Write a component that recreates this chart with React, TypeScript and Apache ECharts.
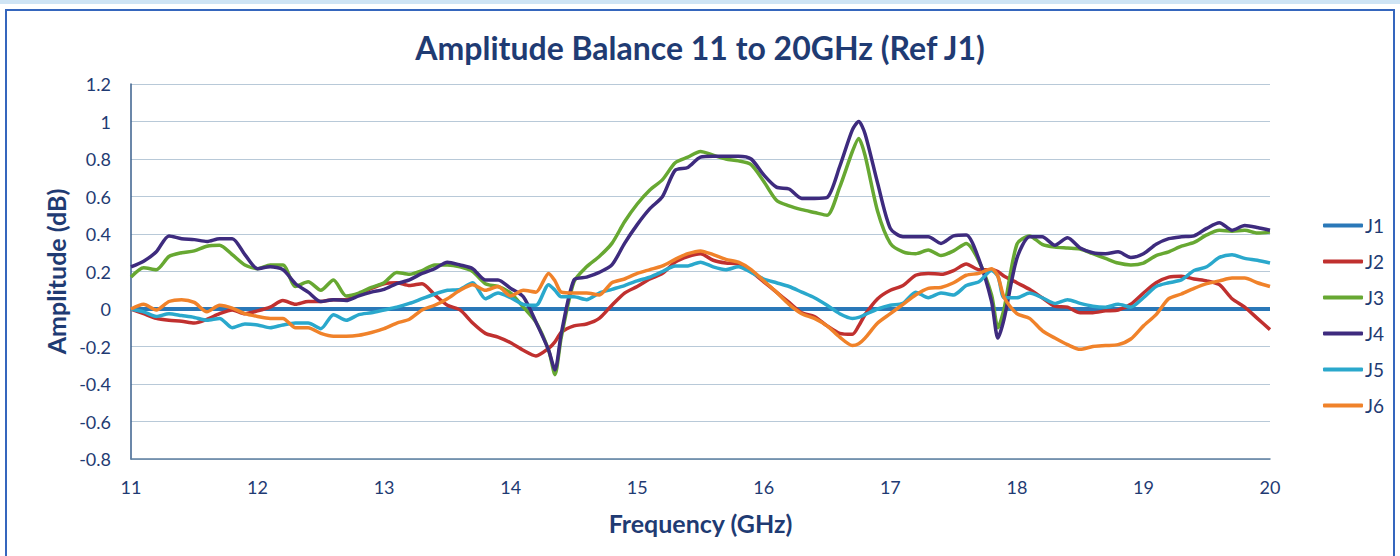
import React, { useEffect, useRef } from "react";
import * as echarts from "echarts";

const FREQ = [
  11, 11.1, 11.2, 11.3, 11.4, 11.5, 11.6, 11.7, 11.8, 11.9,
  12, 12.1, 12.2, 12.3, 12.4, 12.5, 12.6, 12.7, 12.8, 12.9,
  13, 13.1, 13.2, 13.3, 13.4, 13.5, 13.6, 13.7, 13.8, 13.9,
  14, 14.1, 14.2, 14.3, 14.35, 14.4, 14.5, 14.6, 14.7, 14.8, 14.9,
  15, 15.1, 15.2, 15.3, 15.4, 15.5, 15.6, 15.7, 15.8, 15.9,
  16, 16.1, 16.2, 16.3, 16.4, 16.5, 16.6, 16.7, 16.75, 16.8, 16.9,
  17, 17.1, 17.2, 17.3, 17.4, 17.5, 17.6, 17.7, 17.8, 17.85, 17.9,
  18, 18.1, 18.2, 18.3, 18.4, 18.5, 18.6, 18.7, 18.8, 18.9,
  19, 19.1, 19.2, 19.3, 19.4, 19.5, 19.6, 19.7, 19.8, 19.9,
  20,
];

const J1_FREQ = [11, 20];
const J1 = [0, 0];

const J2 = [
  0, -0.025, -0.05, -0.06, -0.065, -0.075, -0.055, -0.025, -0.005, -0.025,
  -0.01, 0.01, 0.045, 0.025, 0.04, 0.04, 0.05, 0.05, 0.08, 0.11,
  0.135, 0.14, 0.125, 0.135, 0.075, 0.02, -0.005, -0.075, -0.13, -0.15,
  -0.18, -0.22, -0.25, -0.21, -0.175, -0.125, -0.09, -0.08, -0.05, 0.02, 0.085,
  0.12, 0.16, 0.19, 0.25, 0.28, 0.295, 0.26, 0.245, 0.24, 0.2,
  0.145, 0.09, 0.035, -0.02, -0.04, -0.09, -0.13, -0.135, -0.09, -0.03, 0.055,
  0.1, 0.125, 0.18, 0.19, 0.185, 0.205, 0.24, 0.21, 0.21, 0.2, 0.175,
  0.14, 0.105, 0.06, 0.015, 0.01, -0.02, -0.02, -0.01, -0.005, 0.025,
  0.085, 0.14, 0.17, 0.175, 0.16, 0.15, 0.13, 0.055, 0.01, -0.05,
  -0.11,
];

const J3 = [
  0.17, 0.22, 0.21, 0.28, 0.3, 0.31, 0.335, 0.34, 0.29, 0.235,
  0.215, 0.235, 0.235, 0.12, 0.145, 0.1, 0.155, 0.07, 0.085, 0.115,
  0.14, 0.195, 0.185, 0.205, 0.235, 0.235, 0.225, 0.2, 0.135, 0.12,
  0.085, 0.01, -0.07, -0.22, -0.35, -0.15, 0.145, 0.225, 0.28, 0.35, 0.465,
  0.56, 0.635, 0.69, 0.78, 0.81, 0.84, 0.82, 0.8, 0.79, 0.77,
  0.68, 0.58, 0.55, 0.53, 0.515, 0.5, 0.65, 0.84, 0.91, 0.82, 0.52,
  0.35, 0.305, 0.295, 0.315, 0.285, 0.31, 0.35, 0.255, 0.075, -0.1, 0.005,
  0.345, 0.39, 0.345, 0.33, 0.325, 0.32, 0.295, 0.27, 0.245, 0.235,
  0.245, 0.285, 0.305, 0.335, 0.355, 0.395, 0.42, 0.415, 0.42, 0.405,
  0.41,
];

const J4 = [
  0.225, 0.255, 0.305, 0.39, 0.375, 0.37, 0.36, 0.375, 0.375, 0.29,
  0.215, 0.225, 0.21, 0.135, 0.09, 0.04, 0.05, 0.045, 0.07, 0.09,
  0.105, 0.135, 0.155, 0.19, 0.215, 0.25, 0.235, 0.215, 0.155, 0.155,
  0.11, 0.065, -0.07, -0.22, -0.325, -0.13, 0.155, 0.17, 0.195, 0.235, 0.35,
  0.45, 0.535, 0.6, 0.74, 0.755, 0.81, 0.815, 0.815, 0.815, 0.8,
  0.715, 0.65, 0.64, 0.59, 0.59, 0.595, 0.76, 0.955, 1.0, 0.935, 0.67,
  0.43, 0.385, 0.385, 0.385, 0.35, 0.39, 0.395, 0.265, 0.04, -0.155, -0.05,
  0.27, 0.385, 0.385, 0.34, 0.38, 0.325, 0.3, 0.295, 0.305, 0.275,
  0.295, 0.345, 0.375, 0.385, 0.39, 0.43, 0.46, 0.42, 0.445, 0.435,
  0.42,
];

const J5 = [
  0, -0.015, -0.04, -0.025, -0.035, -0.045, -0.06, -0.05, -0.1, -0.08,
  -0.085, -0.1, -0.085, -0.075, -0.075, -0.105, -0.03, -0.06, -0.03, -0.02,
  -0.005, 0.01, 0.03, 0.055, 0.08, 0.1, 0.105, 0.14, 0.055, 0.085,
  0.06, 0.025, 0.02, 0.13, 0.1, 0.065, 0.065, 0.05, 0.085, 0.105, 0.125,
  0.15, 0.17, 0.2, 0.23, 0.23, 0.25, 0.225, 0.21, 0.225, 0.195,
  0.16, 0.14, 0.12, 0.09, 0.06, 0.02, -0.025, -0.05, -0.045, -0.03, 0,
  0.02, 0.03, 0.09, 0.06, 0.085, 0.075, 0.125, 0.145, 0.205, 0.175, 0.06,
  0.06, 0.085, 0.06, 0.03, 0.05, 0.03, 0.015, 0.01, 0.025, 0.01,
  0.06, 0.12, 0.14, 0.155, 0.205, 0.225, 0.275, 0.29, 0.27, 0.26,
  0.245,
];

const J6 = [
  0, 0.025, -0.005, 0.04, 0.05, 0.035, -0.015, 0.02, 0.005, -0.025,
  -0.04, -0.05, -0.05, -0.1, -0.1, -0.13, -0.145, -0.145, -0.14, -0.125,
  -0.105, -0.075, -0.055, -0.005, 0.02, 0.055, 0.1, 0.13, 0.1, 0.12,
  0.07, 0.1, 0.09, 0.19, 0.15, 0.09, 0.085, 0.085, 0.075, 0.14, 0.16,
  0.19, 0.21, 0.23, 0.265, 0.295, 0.31, 0.29, 0.265, 0.25, 0.21,
  0.15, 0.09, 0.025, -0.025, -0.05, -0.09, -0.15, -0.195, -0.185, -0.155, -0.075,
  -0.025, 0.025, 0.075, 0.11, 0.115, 0.14, 0.18, 0.19, 0.215, 0.175, 0.06,
  -0.025, -0.05, -0.115, -0.155, -0.19, -0.215, -0.2, -0.195, -0.19, -0.16,
  -0.09, -0.03, 0.055, 0.08, 0.11, 0.135, 0.15, 0.165, 0.165, 0.14,
  0.12,
];

const NAMES = ["J1", "J2", "J3", "J4", "J5", "J6"];
const COLORS = ["#2a78b8", "#c0302f", "#67a832", "#3e2b7e", "#2aa8cc", "#f0822a"];

const TEXT = "#1f3b73";
const FONT = "Lato";

export default function App() {
  const ref = useRef<HTMLDivElement>(null);

  useEffect(() => {
    if (!ref.current) return;
    const chart = echarts.init(ref.current, null, { renderer: "svg" });
    const sets = [J2, J3, J4, J5, J6];
    const series: any[] = [
      {
        name: NAMES[0],
        type: "line",
        data: J1_FREQ.map((f, i) => [f, J1[i]]),
        symbol: "none",
        lineStyle: { width: 4, color: COLORS[0] },
        itemStyle: { color: COLORS[0] },
      },
      ...sets.map((s, k) => ({
        name: NAMES[k + 1],
        type: "line",
        data: FREQ.map((f, i) => [f, s[i]]),
        symbol: "none",
        smooth: 0.25,
        lineStyle: { width: 3.5, color: COLORS[k + 1] },
        itemStyle: { color: COLORS[k + 1] },
      })),
    ];
    chart.setOption({
      animation: false,
      backgroundColor: "#ffffff",
      textStyle: { fontFamily: FONT },
      title: {
        text: "Amplitude Balance 11 to 20GHz (Ref J1)",
        left: "center",
        top: 26,
        textStyle: { fontFamily: FONT, fontSize: 32, fontWeight: "bold", color: TEXT },
      },
      graphic: [
        { type: "rect", shape: { x: 0, y: 0, width: 1400, height: 4 }, style: { fill: "#cfe4f4" } },
        {
          type: "rect",
          shape: { x: 6, y: 10, width: 1388, height: 560 },
          style: { fill: "none", stroke: "#3566bd", lineWidth: 2 },
        },
      ],
      legend: {
        orient: "vertical",
        left: 1318,
        top: 211,
        icon: "roundRect",
        itemWidth: 40,
        itemHeight: 4,
        itemGap: 17,
        data: NAMES,
        textStyle: { fontFamily: FONT, fontSize: 19, color: TEXT, lineHeight: 19, padding: [0, 0, 0, -3] },
      },
      grid: { left: 131, right: 130, top: 84, bottom: 97 },
      xAxis: {
        type: "value",
        min: 11,
        max: 20,
        interval: 1,
        name: "Frequency (GHz)",
        nameLocation: "middle",
        nameGap: 51,
        nameTextStyle: { fontFamily: FONT, fontSize: 25, fontWeight: "bold", color: TEXT },
        axisLine: { onZero: false, show: true, lineStyle: { color: "#5d7fa0", width: 1.5 } },
        axisTick: { show: false },
        splitLine: { show: false },
        axisLabel: { fontFamily: FONT, fontSize: 18, color: TEXT, margin: 19 },
      },
      yAxis: {
        type: "value",
        min: -0.8,
        max: 1.2,
        interval: 0.2,
        name: "Amplitude (dB)",
        nameLocation: "middle",
        nameGap: 61,
        nameTextStyle: { fontFamily: FONT, fontSize: 25, fontWeight: "bold", color: TEXT },
        axisLine: { show: true, lineStyle: { color: "#3a5f8c", width: 1.5 } },
        axisTick: { show: false },
        splitLine: { show: true, lineStyle: { color: "#b8c9d8", width: 1 } },
        axisLabel: { fontFamily: FONT, fontSize: 18, color: TEXT, margin: 20 },
      },
      series,
    });
    return () => chart.dispose();
  }, []);

  return (
    <div
      ref={ref}
      style={{ position: "fixed", left: 0, top: 0, width: 1400, height: 556, background: "#fff" }}
    />
  );
}
